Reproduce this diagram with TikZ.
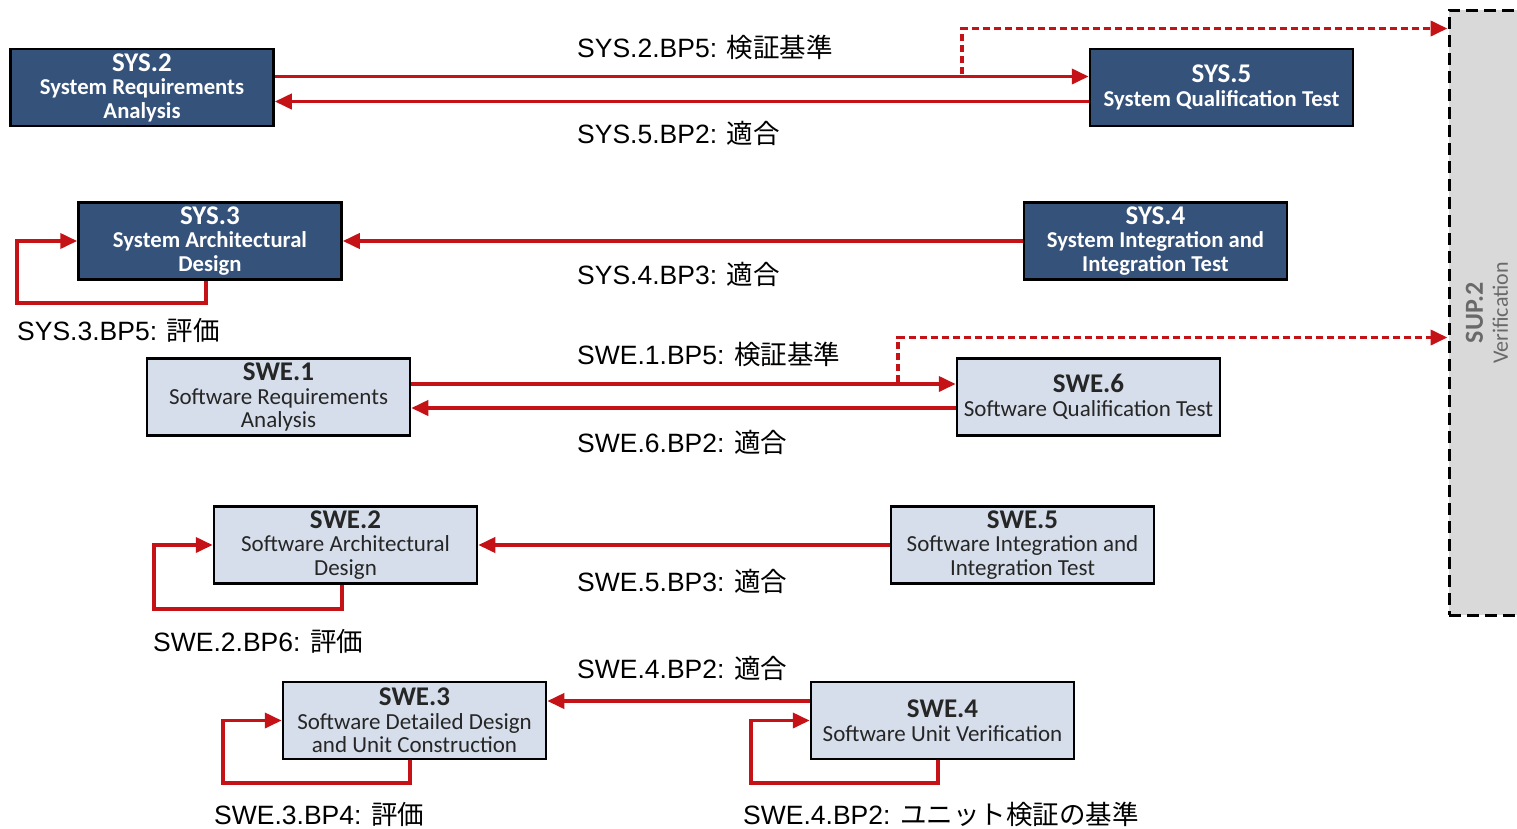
\documentclass[tikz,border=0pt]{standalone}
\usepackage{fontspec}
\setmainfont{Liberation Sans}
\newfontfamily\boxfont{Carlito}
\newfontfamily\cjk{Noto Sans CJK JP}
\usetikzlibrary{arrows.meta,calc}
\definecolor{navyfill}{RGB}{53,82,122}
\definecolor{palefill}{RGB}{214,222,235}
\definecolor{flowred}{RGB}{196,18,22}
\definecolor{supfill}{RGB}{217,217,217}
\definecolor{suptext}{RGB}{105,105,105}
\newcommand{\bp}[2]{#1{\cjk #2}}
\newcommand{\ttl}[1]{{\fontsize{27}{27}\selectfont\bfseries #1}}
\begin{document}
\begin{tikzpicture}[x=1pt,y=-1pt,
  procbox/.style={draw=black, line width=2.5pt, minimum width=263pt,
    minimum height=77pt, inner sep=0pt, align=center},
  darkbox/.style={procbox, fill=navyfill, text=white,
    font=\boxfont\bfseries\fontsize{22.7}{23.5}\selectfont},
  lightbox/.style={procbox, fill=palefill, text=black!85,
    font=\boxfont\fontsize{23}{23.5}\selectfont},
  flow/.style={draw=flowred, line width=3.8pt,
    -{Triangle[length=17pt,width=15pt]}},
  verif/.style={draw=flowred, line width=3.8pt, dash pattern=on 7pt off 4pt,
    -{Triangle[length=17pt,width=15pt]}},
  bplabel/.style={anchor=west, inner sep=0pt, text=black,
    font=\fontsize{26.5}{28}\selectfont}]
\useasboundingbox (0,0) rectangle (1517,828);

% SUP.2 verification column (runs past the right edge)
\node[draw=black, line width=3pt, dash pattern=on 12pt off 6pt, fill=supfill,
  minimum width=90pt, minimum height=605pt, inner sep=0pt] (sup2) at (1494,312.5) {};
\node[rotate=90, align=center, text=suptext, inner sep=0pt,
  font=\boxfont\fontsize{22}{25}\selectfont] (suplbl) at (1487,313)
  {{\fontsize{26}{26}\selectfont\bfseries SUP.2}\\Verification};

% process boxes
\node[darkbox] (sys2) at (142,87.5) {\ttl{SYS.2}\\System Requirements\\Analysis};
\node[darkbox] (sys5) at (1221.5,87.5) {\ttl{SYS.5}\\System Qualification Test};
\node[darkbox] (sys3) at (210,241) {\ttl{SYS.3}\\System Architectural\\Design};
\node[darkbox] (sys4) at (1155.5,241) {\ttl{SYS.4}\\System Integration and\\Integration Test};
\node[lightbox] (swe1) at (278.5,397) {\ttl{SWE.1}\\Software Requirements\\Analysis};
\node[lightbox] (swe6) at (1088.5,397) {\ttl{SWE.6}\\Software Qualification Test};
\node[lightbox] (swe2) at (345.5,545) {\ttl{SWE.2}\\Software Architectural\\Design};
\node[lightbox] (swe5) at (1022.5,545) {\ttl{SWE.5}\\Software Integration and\\Integration Test};
\node[lightbox] (swe3) at (414.5,720.5) {\ttl{SWE.3}\\Software Detailed Design\\and Unit Construction};
\node[lightbox] (swe4) at (942.5,720.5) {\ttl{SWE.4}\\Software Unit Verification};

% traceability and consistency links
\draw[flow] ([yshift=11pt]sys2.east) -- ([yshift=11pt]sys5.west);
\draw[flow] ([yshift=-14pt]sys5.west) -- ([yshift=-14pt]sys2.east);
\draw[flow] (sys4.west) -- (sys3.east);
\draw[flow] ([yshift=13pt]swe1.east) -- ([yshift=13pt]swe6.west);
\draw[flow] ([yshift=-11pt]swe6.west) -- ([yshift=-11pt]swe1.east);
\draw[flow] (swe5.west) -- (swe2.east);
\draw[flow] ([yshift=19.5pt]swe4.west) -- ([yshift=19.5pt]swe3.east);

% verification feeds into SUP.2
\coordinate (sysfork) at (962,74);
\coordinate (swefork) at (898,382);
\draw[verif] (sysfork) |- ([yshift=-20pt]sup2.north west);
\draw[verif] (swefork) |- ([yshift=-329pt]sup2.north west);

% self-evaluation loops
\draw[flow] ([xshift=-4pt]sys3.south) -- ++(0,22) -| ([xshift=-60pt]sys3.west) -- (sys3.west);
\draw[flow] ([xshift=-3.5pt]swe2.south) -- ++(0,24) -| ([xshift=-59pt]swe2.west) -- (swe2.west);
\draw[flow] ([xshift=-4.5pt]swe3.south) -- ++(0,23) -| ([xshift=-59pt]swe3.west) -- (swe3.west);
\draw[flow] ([xshift=-4.5pt]swe4.south) -- ++(0,23) -| ([xshift=-59pt]swe4.west) -- (swe4.west);

% base practice labels
\node[bplabel] (l1) at (577,47) {\bp{SYS.2.BP5: }{検証基準}};
\node[bplabel] (l2) at (577,133) {\bp{SYS.5.BP2: }{適合}};
\node[bplabel] (l3) at (577,274) {\bp{SYS.4.BP3: }{適合}};
\node[bplabel] (l4) at (17,330) {\bp{SYS.3.BP5: }{評価}};
\node[bplabel] (l5) at (577,354) {\bp{SWE.1.BP5: }{検証基準}};
\node[bplabel] (l6) at (577,442) {\bp{SWE.6.BP2: }{適合}};
\node[bplabel] (l7) at (577,581) {\bp{SWE.5.BP3: }{適合}};
\node[bplabel] (l8) at (153,641) {\bp{SWE.2.BP6: }{評価}};
\node[bplabel] (l9) at (577,668) {\bp{SWE.4.BP2: }{適合}};
\node[bplabel] (l10) at (214,814) {\bp{SWE.3.BP4: }{評価}};
\node[bplabel] (l11) at (743,814) {\bp{SWE.4.BP2: }{ユニット検証の基準}};
\end{tikzpicture}
\end{document}
